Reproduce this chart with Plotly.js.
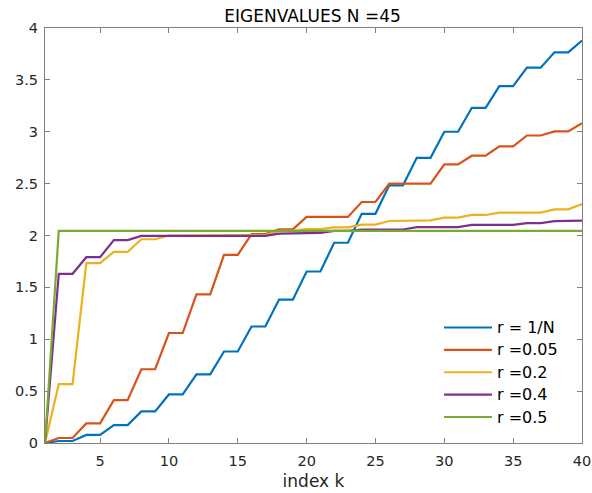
<!DOCTYPE html>
<html>
<head>
<meta charset="utf-8">
<script src="https://cdn.plot.ly/plotly-3.0.1.min.js"></script>
<style>html,body{margin:0;padding:0;background:#fff;}#chart{width:592px;height:493px;}</style>
</head>
<body>
<div id="chart"></div>
<script>
const indexK = [1,2,3,4,5,6,7,8,9,10,11,12,13,14,15,16,17,18,19,20,21,22,23,24,25,26,27,28,29,30,31,32,33,34,35,36,37,38,39,40];

const rOneOverN = [0, 0.0195, 0.0195, 0.0775, 0.0775, 0.173, 0.173, 0.304, 0.304, 0.468, 0.468, 0.662, 0.662, 0.882, 0.882, 1.123, 1.123, 1.382, 1.382, 1.653, 1.653, 1.930, 1.930, 2.209, 2.209, 2.484, 2.484, 2.749, 2.749, 3.000, 3.000, 3.231, 3.231, 3.439, 3.439, 3.618, 3.618, 3.766, 3.766, 3.879];
const r005 = [0, 0.048, 0.048, 0.189, 0.189, 0.413, 0.413, 0.711, 0.711, 1.060, 1.060, 1.433, 1.433, 1.814, 1.814, 2.013, 2.013, 2.060, 2.060, 2.179, 2.179, 2.179, 2.179, 2.323, 2.323, 2.500, 2.500, 2.500, 2.500, 2.686, 2.686, 2.769, 2.769, 2.859, 2.859, 2.964, 2.964, 3.003, 3.003, 3.083];
const r02 = [0, 0.567, 0.567, 1.734, 1.734, 1.843, 1.843, 1.964, 1.964, 2.0, 2.0, 2.0, 2.0, 2.0, 2.0, 2.005, 2.005, 2.045, 2.045, 2.062, 2.062, 2.078, 2.078, 2.105, 2.105, 2.140, 2.140, 2.146, 2.146, 2.173, 2.173, 2.198, 2.198, 2.221, 2.221, 2.221, 2.221, 2.252, 2.252, 2.303];
const r04 = [0, 1.631, 1.631, 1.791, 1.791, 1.955, 1.955, 1.996, 1.996, 1.996, 1.996, 1.996, 1.996, 1.996, 1.996, 1.996, 1.996, 2.018, 2.018, 2.025, 2.025, 2.045, 2.045, 2.058, 2.058, 2.058, 2.058, 2.081, 2.081, 2.081, 2.081, 2.102, 2.102, 2.102, 2.102, 2.120, 2.120, 2.138, 2.138, 2.143];
const r05 = [0, 2.044, 2.044, 2.044, 2.044, 2.044, 2.044, 2.044, 2.044, 2.044, 2.044, 2.044, 2.044, 2.044, 2.044, 2.044, 2.044, 2.044, 2.044, 2.044, 2.044, 2.044, 2.044, 2.044, 2.044, 2.044, 2.044, 2.044, 2.044, 2.044, 2.044, 2.044, 2.044, 2.044, 2.044, 2.044, 2.044, 2.044, 2.044, 2.044];

const seriesNames = ['r = 1/N', 'r =0.05', 'r =0.2', 'r =0.4', 'r =0.5'];
const seriesValues = [rOneOverN, r005, r02, r04, r05];
const seriesColors = ['#0072BD', '#D95319', '#EDB120', '#7E2F8E', '#77AC30'];

const xTickVals = [5, 10, 15, 20, 25, 30, 35, 40];
const yTickVals = [0, 0.5, 1, 1.5, 2, 2.5, 3, 3.5, 4];
const yTickText = ['0', '0.5', '1', '1.5', '2', '2.5', '3', '3.5', '4'];

const chartTitle = 'EIGENVALUES N =45';
const xTitle = 'index k';

const traces = seriesNames.map((name, i) => ({
  x: indexK,
  y: seriesValues[i],
  type: 'scatter',
  mode: 'lines',
  name: name,
  line: {color: seriesColors[i], width: 2.2}
}));

const FONT = 'DejaVu Sans, Liberation Sans, sans-serif';

// Legend box placed in paper coordinates (plot area: 537 x 415 px)
const PW = 537, PH = 415.3;
const legLineX0 = (444 - 45) / PW, legLineX1 = (492 - 45) / PW, legTextX = (495 - 45) / PW;
const legRow0 = 327.7, legRowGap = 22.4;
const shapes = [];
const annotations = [];
seriesNames.forEach((name, i) => {
  const yp = (443.3 - (legRow0 + i * legRowGap)) / PH;
  shapes.push({type: 'line', xref: 'paper', yref: 'paper', x0: legLineX0, x1: legLineX1, y0: yp, y1: yp,
    line: {color: seriesColors[i], width: 2.2}});
  annotations.push({xref: 'paper', yref: 'paper', x: legTextX, y: yp, xanchor: 'left', yanchor: 'middle',
    text: name, showarrow: false, font: {family: FONT, size: 16, color: '#000000'}});
});

const layout = {
  width: 592,
  height: 493,
  margin: {l: 45, r: 10, t: 28, b: 50},
  paper_bgcolor: '#ffffff',
  plot_bgcolor: '#ffffff',
  font: {family: FONT, size: 14, color: '#262626'},
  title: {
    text: chartTitle,
    font: {family: FONT, size: 17, color: '#000000'},
    x: 0.528, xanchor: 'center',
    yref: 'container',
    y: 0.968, yanchor: 'middle'
  },
  xaxis: {
    range: [1, 40],
    tickvals: xTickVals,
    ticks: 'inside',
    ticklen: 5,
    tickwidth: 1,
    tickcolor: '#808080',
    showline: true,
    linecolor: '#808080',
    linewidth: 1,
    mirror: 'ticks',
    showgrid: false,
    zeroline: false,
    ticklabelstandoff: 5,
    tickfont: {family: FONT, size: 14.5, color: '#262626'},
    title: {text: xTitle, font: {family: FONT, size: 17, color: '#262626'}, standoff: 6}
  },
  yaxis: {
    range: [0, 4],
    tickvals: yTickVals,
    ticktext: yTickText,
    ticks: 'inside',
    ticklen: 5,
    tickwidth: 1,
    tickcolor: '#808080',
    showline: true,
    linecolor: '#808080',
    linewidth: 1,
    mirror: 'ticks',
    showgrid: false,
    zeroline: false,
    ticklabelstandoff: 3,
    tickfont: {family: FONT, size: 14.5, color: '#262626'}
  },
  showlegend: false,
  shapes: shapes,
  annotations: annotations
};

Plotly.newPlot('chart', traces, layout, {displayModeBar: false, staticPlot: true});
</script>
</body>
</html>
